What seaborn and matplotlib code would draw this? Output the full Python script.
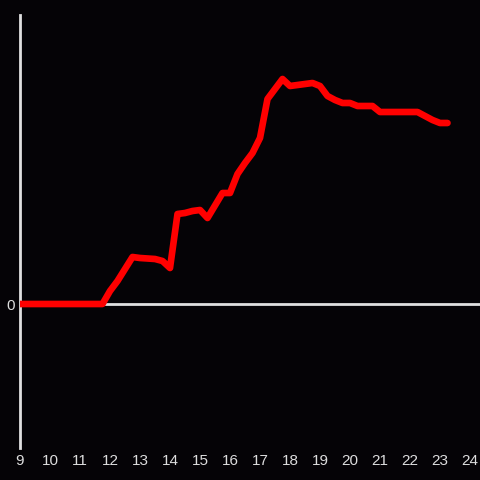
import matplotlib
matplotlib.use("Agg")
import matplotlib.pyplot as plt
import seaborn as sns
import pandas as pd

# === Data (hour of day vs value) ===
hours = [9.0, 11.75, 12.0, 12.25, 12.75, 13.0, 13.5, 13.75, 14.0, 14.25, 14.5,
         14.75, 15.0, 15.25, 15.75, 16.0, 16.25, 16.5, 16.75, 17.0, 17.25,
         17.75, 18.0, 18.25, 18.5, 18.75, 19.0, 19.25, 19.5, 19.75, 20.0,
         20.25, 20.75, 21.0, 22.25, 22.5, 22.75, 23.0, 23.25]
values = [0, 0, 13, 23, 47, 46, 45, 43, 36, 90, 91,
          93, 94, 86, 111, 111, 130, 141, 151, 166, 205,
          225, 218, 219, 220, 221, 218, 208, 204, 201, 201,
          198, 198, 192, 192, 188, 184, 181, 181]
xticks = list(range(9, 25))

df = pd.DataFrame({"hour": hours, "value": values})

sns.set_style("dark")
bg = "#050306"
fig = plt.figure(figsize=(4.8, 4.8), dpi=100, facecolor=bg)
ax = fig.add_axes([20 / 480, 32 / 480, 460 / 480, 433 / 480])
ax.set_facecolor(bg)

sns.lineplot(data=df, x="hour", y="value", color="#ff0000", linewidth=4.8,
             ax=ax, zorder=3)
ax.axhline(0, color="#e0e0e0", linewidth=2, zorder=2)

ax.set_xlim(9, 9 + 460 / 30)
ax.set_ylim(-144, 289)
ax.set_xticks(xticks)
ax.set_xticklabels([str(t) for t in xticks])
ax.set_yticks([0])
ax.set_yticklabels(["0"])
ax.tick_params(colors="#dddddd", labelsize=11, length=0, pad=4)
for lab in ax.get_xticklabels() + ax.get_yticklabels():
    lab.set_fontfamily("Liberation Sans")
ax.grid(False)
ax.set_xlabel("")
ax.set_ylabel("")

for side in ["top", "right", "bottom"]:
    ax.spines[side].set_visible(False)
ax.spines["left"].set_color("#e0e0e0")
ax.spines["left"].set_linewidth(2)

fig.savefig("out.png", dpi=100, facecolor=bg)
